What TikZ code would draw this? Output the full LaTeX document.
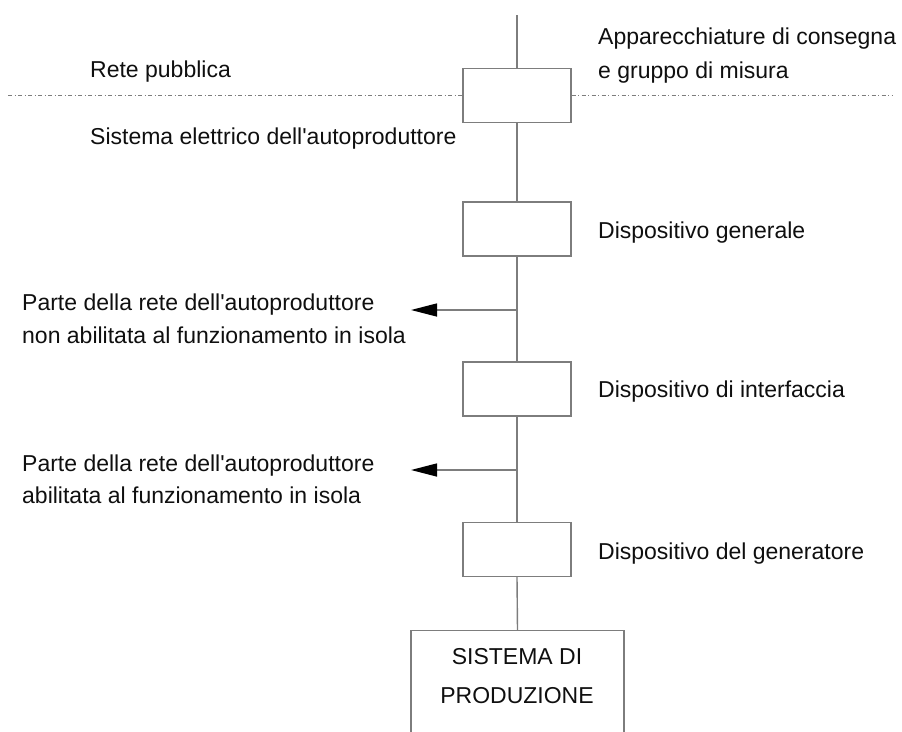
\documentclass[tikz,border=0pt]{standalone}
\usepackage{fontspec}
\setmainfont{Liberation Sans}
\usetikzlibrary{arrows.meta}
\definecolor{linegray}{RGB}{125,125,125}
\definecolor{txt}{RGB}{15,15,15}
\newcommand{\apo}{\textquotesingle}
\begin{document}
\begin{tikzpicture}[x=1pt,y=-1pt,
  wire/.style={draw=linegray,line width=1.4pt},
  devbox/.style={draw=linegray,line width=1.4pt,fill=white,minimum width=108pt,minimum height=54pt,inner sep=0pt},
  lbl/.style={anchor=base west,inner sep=0pt,text=txt,font=\fontsize{23}{33}\selectfont},
  clbl/.style={anchor=base,inner sep=0pt,text=txt,font=\fontsize{23}{33}\selectfont},
  border/.style={draw=linegray,line width=1pt,dash pattern=on 4pt off 2.5pt on 1pt off 2.5pt},
  tip/.style={-{Triangle[length=26pt,width=13pt,color=black,fill=black]},draw=linegray,line width=1.4pt}
]
\useasboundingbox (0,0) rectangle (902,731);

% nodes
\coordinate (top) at (517,15);
\node[devbox] (b1) at (517,95.5) {};
\node[devbox] (b2) at (517,229) {};
\node[devbox] (b3) at (517,389) {};
\node[devbox] (b4) at (517,549.5) {};
\node[draw=linegray,line width=1.4pt,minimum width=213pt,minimum height=200pt,anchor=north] (prod) at (517.5,630) {};

% dash-dot boundary
\coordinate (dl) at (8,95.5);
\coordinate (dr) at (892,95.5);
\draw[border] (dl) -- (b1.west);
\draw[border] (b1.east) -- (dr);

% main line
\draw[wire] (top) -- (b1.north);
\draw[wire] (b1.south) -- (b2.north);
\draw[wire] (b2.south) -- (b3.north);
\draw[wire] (b3.south) -- (b4.north);
\draw[wire] (b4.south) -- (prod.north);

% branches
\coordinate (j1) at (517,310);
\coordinate (a1) at (411,310);
\coordinate (j2) at (517,470);
\coordinate (a2) at (411,470);
\draw[tip] (j1) -- (a1);
\draw[tip] (j2) -- (a2);

% labels
\node[lbl] (rp) at (90,77) {Rete pubblica};
\node[lbl] (se) at (90,144) {Sistema elettrico dell\apo autoproduttore};
\node[lbl] (ac1) at (598,44) {Apparecchiature di consegna};
\node[lbl] (ac2) at (598,78) {e gruppo di misura};
\node[lbl] (dg) at (598,238) {Dispositivo generale};
\node[lbl] (p1a) at (22,310) {Parte della rete dell\apo autoproduttore};
\node[lbl] (p1b) at (22,343) {non abilitata al funzionamento in isola};
\node[lbl] (di) at (598,397) {Dispositivo di interfaccia};
\node[lbl] (p2a) at (22,471) {Parte della rete dell\apo autoproduttore};
\node[lbl] (p2b) at (22,503) {abilitata al funzionamento in isola};
\node[lbl] (dgen) at (598,559) {Dispositivo del generatore};
\node[clbl] (s1) at (517,664) {SISTEMA DI};
\node[clbl] (s2) at (517,703) {PRODUZIONE};
\end{tikzpicture}
\end{document}
